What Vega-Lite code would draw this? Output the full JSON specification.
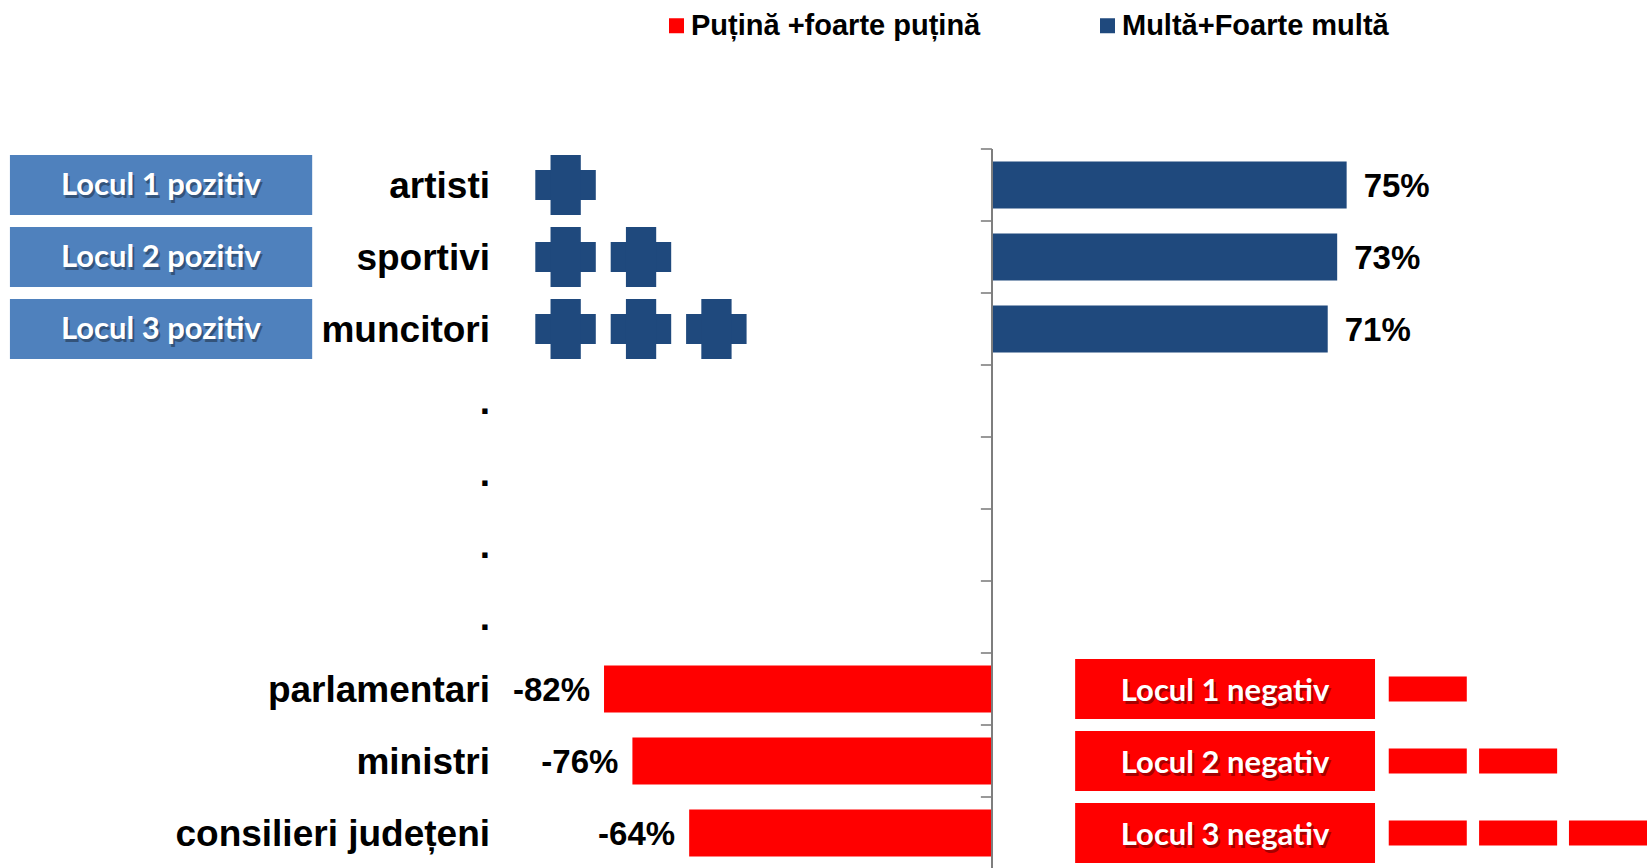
{
  "$schema": "https://vega.github.io/schema/vega-lite/v6.json",
  "width": 1647,
  "height": 720,
  "autosize": {"type": "none"},
  "padding": {"left": 0, "top": 149, "right": 0, "bottom": 0},
  "background": "#ffffff",
  "config": {"view": {"stroke": null}},
  "datasets": {
    "cats": [
      {"cat": "artisti", "name": "artisti"},
      {"cat": "sportivi", "name": "sportivi"},
      {"cat": "muncitori", "name": "muncitori"},
      {"cat": "dot1", "name": "."},
      {"cat": "dot2", "name": "."},
      {"cat": "dot3", "name": "."},
      {"cat": "dot4", "name": "."},
      {"cat": "parlamentari", "name": "parlamentari"},
      {"cat": "ministri", "name": "ministri"},
      {"cat": "consilieri județeni", "name": "consilieri județeni"}
    ],
    "bars": [
      {"cat": "artisti", "value": 75, "series": "Multă+Foarte multă", "label": "75%"},
      {"cat": "sportivi", "value": 73, "series": "Multă+Foarte multă", "label": "73%"},
      {"cat": "muncitori", "value": 71, "series": "Multă+Foarte multă", "label": "71%"},
      {"cat": "parlamentari", "value": -82, "series": "Puțină +foarte puțină", "label": "-82%"},
      {"cat": "ministri", "value": -76, "series": "Puțină +foarte puțină", "label": "-76%"},
      {"cat": "consilieri județeni", "value": -64, "series": "Puțină +foarte puțină", "label": "-64%"}
    ],
    "ranks": [
      {"cat": "artisti", "rank": 1, "sign": "pozitiv", "box": "Locul 1 pozitiv"},
      {"cat": "sportivi", "rank": 2, "sign": "pozitiv", "box": "Locul 2 pozitiv"},
      {"cat": "muncitori", "rank": 3, "sign": "pozitiv", "box": "Locul 3 pozitiv"},
      {"cat": "parlamentari", "rank": 1, "sign": "negativ", "box": "Locul 1 negativ"},
      {"cat": "ministri", "rank": 2, "sign": "negativ", "box": "Locul  2 negativ"},
      {"cat": "consilieri județeni", "rank": 3, "sign": "negativ", "box": "Locul 3 negativ"}
    ]
  },
  "layer": [
    {
      "data": {"name": "bars"},
      "mark": {"type": "bar", "height": {"band": 0.65}},
      "encoding": {
        "y": {
          "field": "cat", "type": "nominal", "title": null, "axis": null,
          "scale": {"domain": ["artisti", "sportivi", "muncitori", "dot1", "dot2", "dot3", "dot4", "parlamentari", "ministri", "consilieri județeni"], "paddingInner": 0, "paddingOuter": 0}
        },
        "x": {"field": "value", "type": "quantitative", "axis": null, "scale": {"domain": [-209.7, 138.5], "nice": false, "zero": false}},
        "color": {
          "field": "series", "type": "nominal",
          "scale": {"domain": ["Puțină +foarte puțină", "Multă+Foarte multă"], "range": ["#FF0000", "#1F497D"]},
          "legend": {
            "orient": "none", "legendX": 662, "legendY": -138, "direction": "horizontal", "title": null,
            "symbolType": "square", "symbolSize": 225, "symbolStrokeWidth": 0, "symbolOpacity": 1,
            "labelFont": "Liberation Sans", "labelFontSize": 29, "labelFontWeight": "bold", "labelColor": "#000000",
            "labelOffset": 0, "columnPadding": 112, "labelLimit": 600
          }
        }
      }
    },
    {
      "data": {"name": "cats"},
      "mark": {"type": "rule", "color": "#555555", "strokeWidth": 1.2},
      "encoding": {
        "y": {"field": "cat", "type": "nominal", "axis": null, "bandPosition": 0},
        "x": {"datum": -2.33, "type": "quantitative", "axis": null},
        "x2": {"datum": 0}
      }
    },
    {
      "data": {"name": "cats"},
      "mark": {"type": "rule", "color": "#7f7f7f", "strokeWidth": 1.5},
      "encoding": {
        "x": {"datum": 0, "type": "quantitative", "axis": null}
      }
    },
    {
      "data": {"name": "cats"},
      "mark": {"type": "text", "align": "right", "baseline": "middle", "dy": 2, "font": "Liberation Sans", "fontSize": 37, "fontWeight": "bold", "color": "#000000"},
      "encoding": {
        "y": {"field": "cat", "type": "nominal", "axis": null},
        "x": {"datum": -106.1, "type": "quantitative", "axis": null},
        "text": {"field": "name"}
      }
    },
    {
      "data": {"name": "bars"},
      "transform": [{"filter": "datum.value > 0"}],
      "mark": {"type": "text", "align": "left", "baseline": "middle", "dx": 17, "dy": 2, "font": "Liberation Sans", "fontSize": 33, "fontWeight": "bold", "color": "#000000"},
      "encoding": {
        "y": {"field": "cat", "type": "nominal", "axis": null},
        "x": {"field": "value", "type": "quantitative", "axis": null},
        "text": {"field": "label"}
      }
    },
    {
      "data": {"name": "bars"},
      "transform": [{"filter": "datum.value < 0"}],
      "mark": {"type": "text", "align": "right", "baseline": "middle", "dx": -14, "dy": 2, "font": "Liberation Sans", "fontSize": 33, "fontWeight": "bold", "color": "#000000"},
      "encoding": {
        "y": {"field": "cat", "type": "nominal", "axis": null},
        "x": {"field": "value", "type": "quantitative", "axis": null},
        "text": {"field": "label"}
      }
    },
    {
      "data": {"name": "ranks"},
      "transform": [{"filter": "datum.sign === 'pozitiv'"}],
      "mark": {"type": "bar", "height": {"band": 0.83}, "color": "#4F81BD"},
      "encoding": {
        "y": {"field": "cat", "type": "nominal", "axis": null},
        "x": {"datum": -207.6, "type": "quantitative", "axis": null},
        "x2": {"datum": -143.7}
      }
    },
    {
      "data": {"name": "ranks"},
      "transform": [{"filter": "datum.sign === 'negativ'"}],
      "mark": {"type": "bar", "height": {"band": 0.83}, "color": "#FF0000"},
      "encoding": {
        "y": {"field": "cat", "type": "nominal", "axis": null},
        "x": {"datum": 17.6, "type": "quantitative", "axis": null},
        "x2": {"datum": 81.0}
      }
    },
    {
      "data": {"name": "ranks"},
      "transform": [{"filter": "datum.sign === 'pozitiv'"}],
      "mark": {"type": "text", "align": "center", "baseline": "middle", "dx": 2, "dy": 4, "font": "Lato", "fontSize": 31, "fontWeight": "bold", "color": "#000000", "opacity": 0.35},
      "encoding": {
        "y": {"field": "cat", "type": "nominal", "axis": null},
        "x": {"datum": -175.7, "type": "quantitative", "axis": null},
        "text": {"field": "box"}
      }
    },
    {
      "data": {"name": "ranks"},
      "transform": [{"filter": "datum.sign === 'pozitiv'"}],
      "mark": {"type": "text", "align": "center", "baseline": "middle", "dy": 1, "font": "Lato", "fontSize": 31, "fontWeight": "bold", "color": "#ffffff"},
      "encoding": {
        "y": {"field": "cat", "type": "nominal", "axis": null},
        "x": {"datum": -175.7, "type": "quantitative", "axis": null},
        "text": {"field": "box"}
      }
    },
    {
      "data": {"name": "ranks"},
      "transform": [{"filter": "datum.sign === 'negativ'"}],
      "mark": {"type": "text", "align": "center", "baseline": "middle", "dx": 2, "dy": 6, "font": "Lato", "fontSize": 31, "fontWeight": "bold", "color": "#000000", "opacity": 0.35},
      "encoding": {
        "y": {"field": "cat", "type": "nominal", "axis": null},
        "x": {"datum": 49.3, "type": "quantitative", "axis": null},
        "text": {"field": "box"}
      }
    },
    {
      "data": {"name": "ranks"},
      "transform": [{"filter": "datum.sign === 'negativ'"}],
      "mark": {"type": "text", "align": "center", "baseline": "middle", "dy": 3, "font": "Lato", "fontSize": 31, "fontWeight": "bold", "color": "#ffffff"},
      "encoding": {
        "y": {"field": "cat", "type": "nominal", "axis": null},
        "x": {"datum": 49.3, "type": "quantitative", "axis": null},
        "text": {"field": "box"}
      }
    },
    {
      "data": {"name": "ranks"},
      "transform": [{"filter": "datum.sign === 'pozitiv' && datum.rank >= 1"}],
      "mark": {"type": "bar", "height": {"band": 0.417}, "color": "#1F497D"},
      "encoding": {
        "y": {"field": "cat", "type": "nominal", "axis": null},
        "x": {"datum": -96.53, "type": "quantitative", "axis": null},
        "x2": {"datum": -83.74}
      }
    },
    {
      "data": {"name": "ranks"},
      "transform": [{"filter": "datum.sign === 'pozitiv' && datum.rank >= 1"}],
      "mark": {"type": "bar", "height": {"band": 0.833}, "color": "#1F497D"},
      "encoding": {
        "y": {"field": "cat", "type": "nominal", "axis": null},
        "x": {"datum": -93.31, "type": "quantitative", "axis": null},
        "x2": {"datum": -86.91}
      }
    },
    {
      "data": {"name": "ranks"},
      "transform": [{"filter": "datum.sign === 'pozitiv' && datum.rank >= 2"}],
      "mark": {"type": "bar", "height": {"band": 0.417}, "color": "#1F497D"},
      "encoding": {
        "y": {"field": "cat", "type": "nominal", "axis": null},
        "x": {"datum": -80.59, "type": "quantitative", "axis": null},
        "x2": {"datum": -67.80}
      }
    },
    {
      "data": {"name": "ranks"},
      "transform": [{"filter": "datum.sign === 'pozitiv' && datum.rank >= 2"}],
      "mark": {"type": "bar", "height": {"band": 0.833}, "color": "#1F497D"},
      "encoding": {
        "y": {"field": "cat", "type": "nominal", "axis": null},
        "x": {"datum": -77.37, "type": "quantitative", "axis": null},
        "x2": {"datum": -70.97}
      }
    },
    {
      "data": {"name": "ranks"},
      "transform": [{"filter": "datum.sign === 'pozitiv' && datum.rank >= 3"}],
      "mark": {"type": "bar", "height": {"band": 0.417}, "color": "#1F497D"},
      "encoding": {
        "y": {"field": "cat", "type": "nominal", "axis": null},
        "x": {"datum": -64.65, "type": "quantitative", "axis": null},
        "x2": {"datum": -51.86}
      }
    },
    {
      "data": {"name": "ranks"},
      "transform": [{"filter": "datum.sign === 'pozitiv' && datum.rank >= 3"}],
      "mark": {"type": "bar", "height": {"band": 0.833}, "color": "#1F497D"},
      "encoding": {
        "y": {"field": "cat", "type": "nominal", "axis": null},
        "x": {"datum": -61.43, "type": "quantitative", "axis": null},
        "x2": {"datum": -55.03}
      }
    },
    {
      "data": {"name": "ranks"},
      "transform": [{"filter": "datum.sign === 'negativ' && datum.rank >= 1"}],
      "mark": {"type": "bar", "height": {"band": 0.347}, "color": "#FF0000"},
      "encoding": {
        "y": {"field": "cat", "type": "nominal", "axis": null},
        "x": {"datum": 83.9, "type": "quantitative", "axis": null},
        "x2": {"datum": 100.4}
      }
    },
    {
      "data": {"name": "ranks"},
      "transform": [{"filter": "datum.sign === 'negativ' && datum.rank >= 2"}],
      "mark": {"type": "bar", "height": {"band": 0.347}, "color": "#FF0000"},
      "encoding": {
        "y": {"field": "cat", "type": "nominal", "axis": null},
        "x": {"datum": 103.0, "type": "quantitative", "axis": null},
        "x2": {"datum": 119.5}
      }
    },
    {
      "data": {"name": "ranks"},
      "transform": [{"filter": "datum.sign === 'negativ' && datum.rank >= 3"}],
      "mark": {"type": "bar", "height": {"band": 0.347}, "color": "#FF0000"},
      "encoding": {
        "y": {"field": "cat", "type": "nominal", "axis": null},
        "x": {"datum": 122.0, "type": "quantitative", "axis": null},
        "x2": {"datum": 138.5}
      }
    }
  ]
}
